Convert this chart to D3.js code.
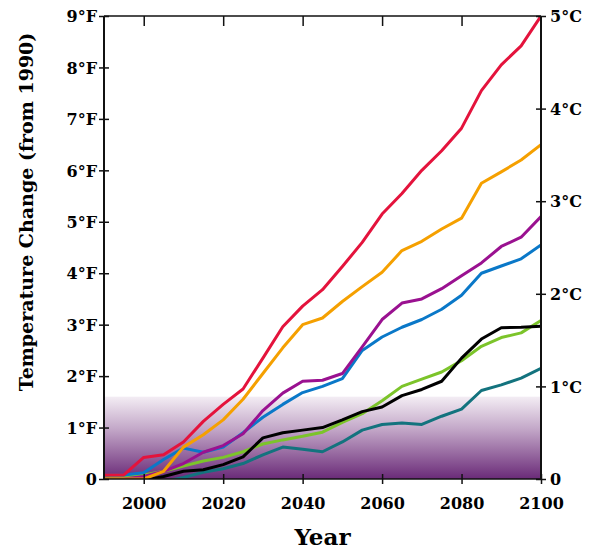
<!DOCTYPE html>
<html>
<head>
<meta charset="utf-8">
<script src="https://cdn.jsdelivr.net/npm/d3@7/dist/d3.min.js"></script>
<style>
  html, body { margin: 0; padding: 0; background: #fff; }
  svg { display: block; }
  text { font-family: "DejaVu Serif", "Liberation Serif", serif; font-weight: bold; fill: #000; }
</style>
</head>
<body>
<script>
// Projected warming (°F, relative to 1990), one value per year below
const years = [1990, 1995, 2000, 2005, 2010, 2015, 2020, 2025, 2030, 2035, 2040, 2045,
               2050, 2055, 2060, 2065, 2070, 2075, 2080, 2085, 2090, 2095, 2100];

const redSeries    = [0.08, 0.08, 0.42, 0.47, 0.72, 1.12, 1.45, 1.75, 2.35, 2.96, 3.36, 3.68,
                      4.13, 4.60, 5.15, 5.55, 6.00, 6.38, 6.82, 7.55, 8.05, 8.42, 9.00];
const orangeSeries = [0.00, 0.00, 0.00, 0.15, 0.62, 0.86, 1.15, 1.55, 2.05, 2.55, 3.00, 3.13,
                      3.45, 3.74, 4.02, 4.44, 4.62, 4.86, 5.07, 5.75, 5.97, 6.20, 6.50];
const purpleSeries = [0.00, 0.00, 0.05, 0.15, 0.30, 0.52, 0.65, 0.88, 1.33, 1.67, 1.90, 1.92,
                      2.05, 2.57, 3.10, 3.42, 3.50, 3.70, 3.95, 4.20, 4.52, 4.70, 5.10];
const blueSeries   = [0.08, 0.08, 0.12, 0.38, 0.60, 0.52, 0.62, 0.90, 1.20, 1.45, 1.68, 1.80,
                      1.95, 2.50, 2.76, 2.95, 3.10, 3.30, 3.57, 4.00, 4.14, 4.28, 4.55];
const blackSeries  = [-0.05, -0.05, -0.03, 0.05, 0.15, 0.18, 0.28, 0.43, 0.80, 0.90, 0.95, 1.00,
                      1.15, 1.31, 1.40, 1.62, 1.74, 1.90, 2.35, 2.72, 2.94, 2.95, 2.97];
const greenSeries  = [0.02, 0.05, 0.08, 0.15, 0.25, 0.35, 0.42, 0.53, 0.68, 0.76, 0.83, 0.91,
                      1.10, 1.27, 1.52, 1.80, 1.94, 2.08, 2.30, 2.58, 2.75, 2.84, 3.08];
const tealSeries   = [-0.10, -0.10, -0.10, -0.05, 0.03, 0.13, 0.20, 0.30, 0.47, 0.62, 0.58, 0.53,
                      0.72, 0.95, 1.06, 1.09, 1.06, 1.22, 1.36, 1.72, 1.83, 1.96, 2.15];

// Axis tick values and labels
const yearTicks = [2000, 2020, 2040, 2060, 2080, 2100];
const fahrenheitTicks = [0, 1, 2, 3, 4, 5, 6, 7, 8, 9];
const celsiusTicks = [0, 1, 2, 3, 4, 5];
const bandTopF = 1.6; // top of the shaded range, °F

const series = [
  { name: "teal",   values: tealSeries,   color: "#13737e" },
  { name: "green",  values: greenSeries,  color: "#7cc42a" },
  { name: "black",  values: blackSeries,  color: "#000000" },
  { name: "blue",   values: blueSeries,   color: "#0a78c8" },
  { name: "purple", values: purpleSeries, color: "#9a1190" },
  { name: "orange", values: orangeSeries, color: "#f5a000" },
  { name: "red",    values: redSeries,    color: "#e4133c" }
];

const W = 598, H = 549;
const plotL = 104, plotR = 541, plotT = 16, plotB = 479;

const x = d3.scaleLinear().domain([1990, 2100]).range([plotL, plotR]);
const yF = d3.scaleLinear().domain([0, 9]).range([plotB, plotT]);
const yC = d3.scaleLinear().domain([0, 5]).range([plotB, plotT]);

const svg = d3.select("body").append("svg").attr("width", W).attr("height", H);
const defs = svg.append("defs");

const grad = defs.append("linearGradient").attr("id", "band")
  .attr("x1", 0).attr("y1", 0).attr("x2", 0).attr("y2", 1);
grad.append("stop").attr("offset", "0%").attr("stop-color", "#f3edf4");
grad.append("stop").attr("offset", "40%").attr("stop-color", "#c2a6c7");
grad.append("stop").attr("offset", "100%").attr("stop-color", "#6a2a78");

defs.append("clipPath").attr("id", "plot")
  .append("rect").attr("x", plotL).attr("y", plotT).attr("width", plotR - plotL).attr("height", plotB - plotT);

// shaded band near zero
svg.append("rect")
  .attr("x", plotL).attr("y", yF(bandTopF))
  .attr("width", plotR - plotL).attr("height", plotB - yF(bandTopF))
  .attr("fill", "url(#band)");

// warming curves
const line = d3.line().x((d, i) => x(years[i])).y(d => yF(d));
svg.append("g").attr("clip-path", "url(#plot)")
  .selectAll("path").data(series).join("path")
  .attr("d", d => line(d.values))
  .attr("fill", "none")
  .attr("stroke", d => d.color)
  .attr("stroke-width", 3)
  .attr("stroke-linejoin", "round");

// frame
const frame = svg.append("g").attr("stroke", "#111").attr("fill", "none");
frame.append("line").attr("x1", plotL).attr("x2", plotR).attr("y1", plotT).attr("y2", plotT).attr("stroke-width", 1.5);
frame.append("line").attr("x1", plotL).attr("x2", plotR).attr("y1", plotB).attr("y2", plotB).attr("stroke-width", 1.5);
frame.append("line").attr("x1", plotL).attr("x2", plotL).attr("y1", plotT).attr("y2", plotB).attr("stroke-width", 2);
frame.append("line").attr("x1", plotR).attr("x2", plotR).attr("y1", plotT).attr("y2", plotB).attr("stroke-width", 2);

// left axis (°F)
const axL = svg.append("g").attr("transform", `translate(${plotL},0)`)
  .call(d3.axisLeft(yF).tickValues(fahrenheitTicks).tickSizeInner(5).tickSizeOuter(0)
    .tickFormat(d => d === 0 ? "0" : d + "°F"));
axL.select(".domain").remove();
axL.selectAll(".tick line").attr("x1", -5).attr("x2", 5).attr("stroke", "#111").attr("stroke-width", 1.5);
axL.selectAll(".tick text").attr("x", -7).attr("font-size", 16).attr("dy", "0.36em");

// right axis (°C)
const axR = svg.append("g").attr("transform", `translate(${plotR},0)`)
  .call(d3.axisRight(yC).tickValues(celsiusTicks).tickSizeInner(5).tickSizeOuter(0)
    .tickFormat(d => d === 0 ? "0" : d + "°C"));
axR.select(".domain").remove();
axR.selectAll(".tick line").attr("x1", -5).attr("x2", 5).attr("stroke", "#111").attr("stroke-width", 1.5);
axR.selectAll(".tick text").attr("x", 9).attr("font-size", 16).attr("dy", "0.36em");

// bottom axis (years)
const axB = svg.append("g").attr("transform", `translate(0,${plotB})`)
  .call(d3.axisBottom(x).tickValues(yearTicks).tickSizeInner(5).tickSizeOuter(0).tickFormat(d3.format("d")));
axB.select(".domain").remove();
axB.selectAll(".tick line").attr("y1", -5).attr("y2", 5).attr("stroke", "#111").attr("stroke-width", 1.5);
axB.selectAll(".tick text").attr("y", 19).attr("font-size", 16);

// top axis: inward ticks only
const axT = svg.append("g").attr("transform", `translate(0,${plotT})`)
  .call(d3.axisTop(x).tickValues(yearTicks.slice(0, -1)).tickSizeOuter(0).tickFormat(""));
axT.select(".domain").remove();
axT.selectAll(".tick line").attr("y1", 0).attr("y2", 10).attr("stroke", "#111").attr("stroke-width", 1.5);

// titles
svg.append("text").attr("x", (plotL + plotR) / 2).attr("y", 545)
  .attr("text-anchor", "middle").attr("font-size", 23).text("Year");

svg.append("text")
  .attr("transform", "translate(33,212) rotate(-90)")
  .attr("text-anchor", "middle").attr("font-size", 19).text("Temperature Change (from 1990)");
</script>
</body>
</html>
